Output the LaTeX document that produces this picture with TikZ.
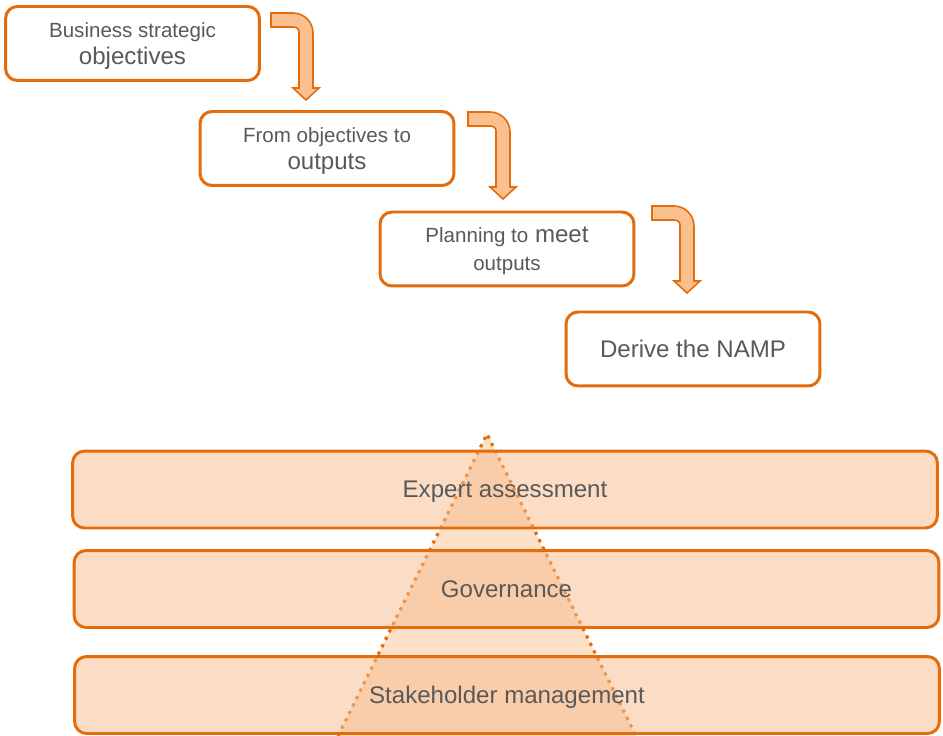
\documentclass[tikz,border=0pt]{standalone}
\usepackage{fontspec}
\setmainfont{Liberation Sans}
\usepackage{xcolor}
\usetikzlibrary{positioning,calc}
\definecolor{namporange}{HTML}{E46C0A}
\definecolor{arrowfill}{HTML}{FAC090}
\definecolor{bandfill}{RGB}{248,188,140}
\definecolor{conefill}{RGB}{252,224,200}
\definecolor{txtgray}{HTML}{595959}
\newcommand{\sml}[1]{{\fontsize{11.7}{15.8}\selectfont #1}}

\begin{document}
\begin{tikzpicture}[x=0.02cm, y=-0.02cm, font=\fontsize{13.7}{15.8}\selectfont]
  \tikzset{stepbox/.style={draw=namporange, line width=1.7pt, rounded corners=0.24cm, fill=white, text=txtgray, minimum width=5.08cm, minimum height=1.48cm, align=center, inner sep=0pt, text depth=0pt},
    band/.style={draw=namporange, line width=1.7pt, rounded corners=0.24cm, fill=bandfill, fill opacity=0.5, text opacity=1, text=txtgray, minimum width=17.3cm, minimum height=1.54cm, text depth=0pt},
    bentarrow/.pic={\filldraw[draw=namporange, fill=arrowfill, line width=0.9pt, line join=miter] (0,-7) -- (22,-7) .. controls (33,-7) and (42,2) .. (42,13) -- (42,68) -- (48,68) -- (35,80) -- (22,68) -- (28,68) -- (28,12) .. controls (28,8.7) and (25.3,7) .. (22,7) -- (0,7) -- cycle;}}
  \useasboundingbox (0,0) rectangle (943,736);
  % top: the four steps
  \node[stepbox] (objectives) at (132.5,43.5) {\sml{Business strategic}\\objectives};
  \node[stepbox] (outputs) at (327,148.5) {\sml{From objectives to}\\outputs};
  \node[stepbox] (planning) at (507,249) {\sml{Planning to} meet\\\sml{outputs}};
  \node[stepbox] (namp) at (693,349) {Derive the NAMP};
  \pic at (271,20) {bentarrow};
  \pic at (468,119) {bentarrow};
  \pic at (652,213) {bentarrow};
  % bottom: cone behind the three layers
  \coordinate (apex) at (487,434);
  \coordinate (baseL) at (338,736);
  \coordinate (baseR) at (636,736);
  \fill[conefill] (apex) -- (baseR) -- (baseL) -- cycle;
  \draw[namporange, line width=1.8pt, dash pattern=on 1.8pt off 2.9pt] (baseL) -- (apex) -- (baseR);
  \node[band] (expert) at (505,489.5) {Expert assessment};
  \node[band] (governance) at (506.5,589) {Governance};
  \node[band] (stakeholder) at (507,695) {Stakeholder management};
\end{tikzpicture}
\end{document}
